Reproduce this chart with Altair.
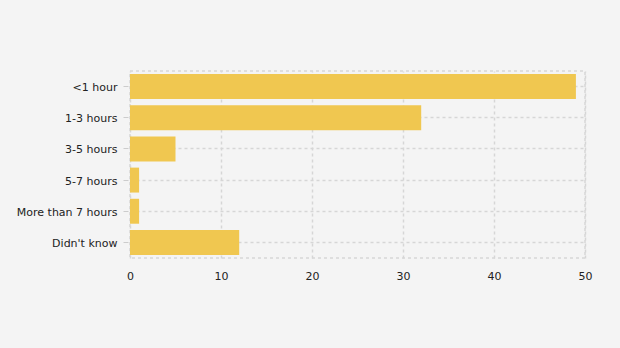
import altair as alt
import pandas as pd

categories = ["<1 hour", "1-3 hours", "3-5 hours", "5-7 hours", "More than 7 hours", "Didn't know"]
values = [49, 32, 5, 1, 1, 12]

df = pd.DataFrame({"category": categories, "value": values})

grid_color = "#d6d6d6"

chart = alt.Chart(df).mark_bar(
    color="#f0c750",
    height=alt.RelativeBandSize(band=0.8),
).encode(
    x=alt.X("value:Q",
            scale=alt.Scale(domain=[0, 50], nice=False),
            axis=alt.Axis(title=None, values=[0, 10, 20, 30, 40, 50], ticks=False, domain=False,
                          grid=True, gridColor=grid_color, gridDash=[3, 3], gridWidth=1.5,
                          labelFlush=False,
                          labelPadding=12, labelFontSize=11, labelColor="#222",
                          labelFont="DejaVu Sans")),
    y=alt.Y("category:N", sort=categories,
            scale=alt.Scale(paddingInner=0, paddingOuter=0),
            axis=alt.Axis(title=None, domain=False, ticks=True, tickSize=5, tickColor="#cccccc",
                          tickBand="center", offset=2,
                          grid=True, gridColor=grid_color, gridDash=[3, 3], gridWidth=1.5,
                          bandPosition=0, labelOffset=1.5,
                          labelPadding=6, labelFontSize=11, labelColor="#222",
                          labelFont="DejaVu Sans")),
).properties(
    width=455,
    height=187,
    background="#f4f4f4",
    padding={"left": 130, "top": 71, "right": 35, "bottom": 90},
    autosize=alt.AutoSizeParams(type="none"),
).configure_view(
    stroke=grid_color, strokeDash=[3, 3], strokeWidth=1.5
)

chart.save("out.html", embed_options={"renderer": "svg", "actions": False})
